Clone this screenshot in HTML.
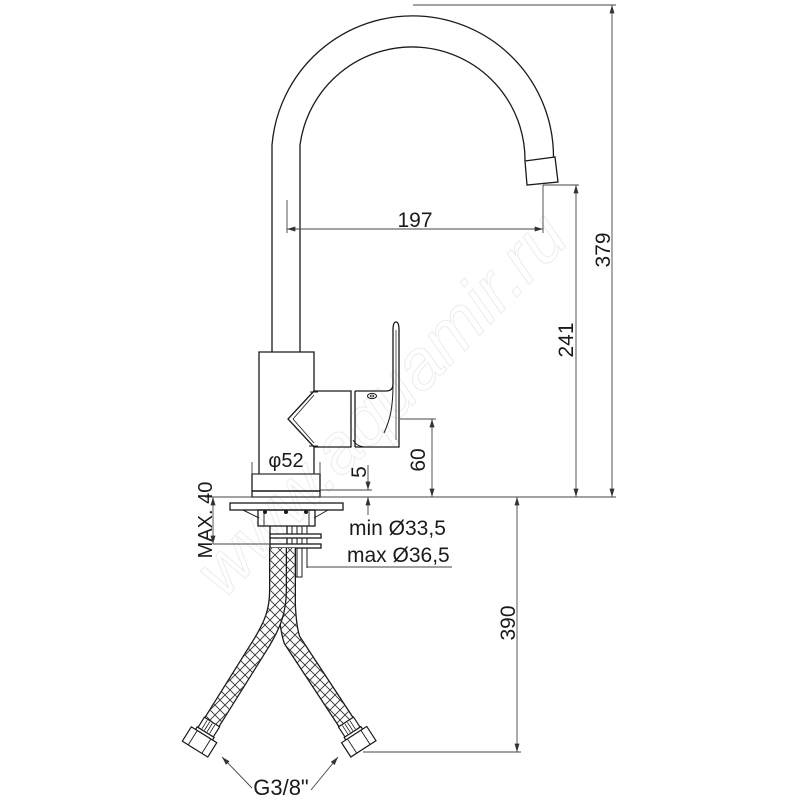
<!DOCTYPE html>
<html>
<head>
<meta charset="utf-8">
<style>
html,body{margin:0;padding:0;background:#fff;}
svg{display:block;}
text{font-family:"Liberation Sans",sans-serif;fill:#1a1a1a;}
</style>
</head>
<body>
<svg width="800" height="800" viewBox="0 0 800 800" xmlns="http://www.w3.org/2000/svg">
<defs>
<marker id="a" viewBox="0 0 10 6" refX="10" refY="3" markerWidth="9" markerHeight="5" markerUnits="userSpaceOnUse" orient="auto-start-reverse"><path d="M0,0 L10,3 L0,6 z" fill="#333"/></marker>
<pattern id="br" width="10" height="10" patternUnits="userSpaceOnUse"><path d="M0 0L10 10M10 0L0 10M-1 9L1 11M9 -1L11 1" stroke="#333" stroke-width="0.9"/></pattern>
</defs>

<!-- watermark -->
<text x="0" y="0" transform="translate(398,420) rotate(-46)" text-anchor="middle" font-size="70" font-style="italic" style="fill:none;stroke:#ececec;stroke-width:1">www.aquamir.ru</text>

<g fill="none" stroke="#1a1a1a" stroke-width="1.3">
  <!-- spout -->
  <path d="M272 352 L272 145 A141 141 0 0 1 553.5 157"/>
  <path d="M300 352 L300 145 A113 113 0 0 1 525 161"/>
  <path d="M525 161 L555 157 L558 182 L527 185 Z"/>
  <!-- body -->
  <path d="M259 474 L259 352 L314 352 L314 391"/>
  <path d="M314 447 L314 474"/>
  <!-- handle cone -->
  <path d="M314 391 L288 419 L314 447"/>
  <path d="M310 392 L318 392 M309 446 L318 446" stroke-width="1"/>
  <path d="M314 395 L293 419 L314 443" stroke-width="0.8"/>
  <!-- hub -->
  <path d="M314 391 L351 391 L351 447 L314 447"/>
  <path d="M355 391 L355 447"/>
  <!-- lever -->
  <path d="M355 391 L386 391 Q393 391 393 384 L393 330 Q393 322 396 322 Q399 322 399 330 L399 447 L355 447"/>
  <path d="M396 330 L396 440" stroke-width="0.7"/>
  <path d="M393 384 C393 408 390 420 384 433" stroke-width="1"/>
  <path d="M353 440 Q356 446 364 447" stroke-width="0.9"/>
  <ellipse cx="372" cy="396" rx="4.5" ry="2.6" stroke-width="1"/>
  <ellipse cx="372" cy="396" rx="1.8" ry="1" stroke-width="0.8"/>
  <!-- escutcheon -->
  <rect x="252" y="474" width="68" height="17"/>
  <rect x="252" y="491" width="68" height="6"/>
  <!-- flange -->
  <rect x="230" y="503" width="113" height="7"/>
  <path d="M243 510 L259 518 M328 510 L314 518" stroke-width="1"/>
  <rect x="258" y="510" width="57" height="16"/>
  <path d="M264 510 L264 526 M309 510 L309 526" stroke-width="0.9"/>
  <!-- rods -->
  <path d="M270 526 L270 550 M287 526 L287 552"/>
  <path d="M292 526 L292 577 L302 577 L302 526 M297 526 L297 577 M307 526 L307 568" stroke-width="1"/>
  <rect x="270" y="534" width="51" height="4" fill="#fff"/>
  <rect x="270" y="544" width="51" height="4" fill="#fff"/>
</g>
<g fill="#1a1a1a">
  <circle cx="265" cy="512" r="2"/>
  <circle cx="286" cy="512" r="2"/>
  <circle cx="306" cy="512" r="2"/>
</g>

<!-- hoses -->
<g fill="none" stroke-linecap="butt">
  <path d="M287 548 L287 605 Q288 628 292 640 L346 722" stroke="#1a1a1a" stroke-width="18"/>
  <path d="M287 548 L287 605 Q288 628 292 640 L346 722" stroke="#fff" stroke-width="15.4"/>
  <path d="M287 548 L287 605 Q288 628 292 640 L346 722" stroke="url(#br)" stroke-width="15.4"/>
  <path d="M278 548 L278 590 C278 612 272 625 262 642 L212 722" stroke="#1a1a1a" stroke-width="18"/>
  <path d="M278 548 L278 590 C278 612 272 625 262 642 L212 722" stroke="#fff" stroke-width="15.4"/>
  <path d="M278 548 L278 590 C278 612 272 625 262 642 L212 722" stroke="url(#br)" stroke-width="15.4"/>
</g>
<!-- fittings -->
<g transform="translate(212,722) rotate(32)" fill="#fff" stroke="#1a1a1a" stroke-width="1.2">
  <rect x="-9" y="0" width="18" height="12"/>
  <path d="M-5 1 L-5 11 M-2 1 L-2 11 M1 1 L1 11 M4 1 L4 11" stroke-width="0.8"/>
  <rect x="-10" y="12" width="20" height="3"/>
  <rect x="-15" y="15" width="30" height="17"/>
  <path d="M-8 15 L-8 32 M8 15 L8 32" stroke-width="0.9"/>
</g>
<g transform="translate(346,722) rotate(-33)" fill="#fff" stroke="#1a1a1a" stroke-width="1.2">
  <rect x="-9" y="0" width="18" height="12"/>
  <path d="M-5 1 L-5 11 M-2 1 L-2 11 M1 1 L1 11 M4 1 L4 11" stroke-width="0.8"/>
  <rect x="-10" y="12" width="20" height="3"/>
  <rect x="-15" y="15" width="30" height="17"/>
  <path d="M-8 15 L-8 32 M8 15 L8 32" stroke-width="0.9"/>
</g>

<!-- dimension lines -->
<g fill="none" stroke="#444" stroke-width="0.9">
  <path d="M413 5 L616 5"/>
  <path d="M205 497 L616 497"/>
  <path d="M543 185 L579 185 M543 185 L543 233"/>
  <path d="M287 200 L287 233"/>
  <path d="M400 419 L436 419"/>
  <path d="M320 490 L372 490"/>
  <path d="M213 544 L270 544"/>
  <path d="M307 567 L452 567"/>
  <path d="M363 752 L521 752"/>
  <path d="M252 462 L252 474 M320 462 L320 474"/>
  <path d="M612 5 L612 497" marker-start="url(#a)" marker-end="url(#a)"/>
  <path d="M576 185 L576 497" marker-start="url(#a)" marker-end="url(#a)"/>
  <path d="M287 229 L543 229" marker-start="url(#a)" marker-end="url(#a)"/>
  <path d="M432 419 L432 497" marker-start="url(#a)" marker-end="url(#a)"/>
  <path d="M517 497 L517 752" marker-start="url(#a)" marker-end="url(#a)"/>
  <path d="M213 497 L213 544" marker-start="url(#a)" marker-end="url(#a)"/>
  <path d="M368 465 L368 490" marker-end="url(#a)"/>
  <path d="M368 515 L368 497" marker-end="url(#a)"/>
  <path d="M252 474 L320 474"/>
  <path d="M252 788 L222 757" marker-end="url(#a)"/>
  <path d="M311 790 L338 757" marker-end="url(#a)"/>
</g>

<!-- labels -->
<text x="415" y="227" font-size="21" text-anchor="middle">197</text>
<text transform="translate(573,340) rotate(-90)" font-size="21" text-anchor="middle">241</text>
<text transform="translate(610,250) rotate(-90)" font-size="21" text-anchor="middle">379</text>
<text transform="translate(425,460) rotate(-90)" font-size="21" text-anchor="middle">60</text>
<text transform="translate(366,472) rotate(-90)" font-size="21" text-anchor="middle">5</text>
<text transform="translate(515,623) rotate(-90)" font-size="21" text-anchor="middle">390</text>
<text transform="translate(212,520) rotate(-90)" font-size="20" text-anchor="middle">MAX. 40</text>
<text x="286" y="467" font-size="20" text-anchor="middle">φ52</text>
<text x="349" y="535" font-size="21">min Ø33,5</text>
<text x="347" y="562" font-size="21">max Ø36,5</text>
<text x="281" y="795" font-size="22" text-anchor="middle">G3/8"</text>
</svg>
</body>
</html>
